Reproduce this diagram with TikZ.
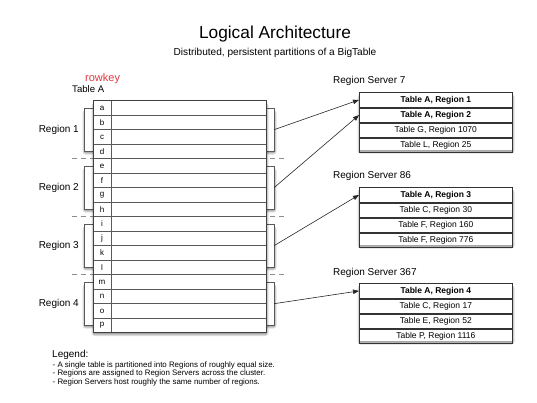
\documentclass[tikz,border=0pt]{standalone}
\usepackage{fontspec}
\setmainfont{Liberation Sans}
\usetikzlibrary{arrows.meta}
\definecolor{rowred}{RGB}{225,55,65}
\newcommand\softshadow[4]{%
  \foreach \d in {1,2,3}
    \fill[black,opacity=0.13,rounded corners=\d pt] ({#1-\d+1.5},{#2+2}) rectangle ({#3+\d-0.5},{#4+\d+0.3});}
\begin{document}
\begin{tikzpicture}[x=1pt,y=-1pt,
  font=\fontsize{10}{12}\selectfont,
  tline/.style={draw=black!65,line width=0.6pt},
  frame/.style={draw=black!75,line width=0.9pt},
  sep/.style={draw=black!45,dash pattern=on 5pt off 4pt,line width=0.7pt},
  keycell/.style={font=\fontsize{8}{9}\selectfont,inner sep=0pt},
  regionlabel/.style={anchor=east,inner sep=0pt},
  plainlabel/.style={anchor=west,inner sep=0pt},
  srvrow/.style={draw=black!80,line width=0.7pt,minimum width=153pt,minimum height=14.5pt,inner sep=0pt,anchor=north west,font=\fontsize{8.5}{10}\selectfont},
  hl/.style={font=\fontsize{8.5}{10}\selectfont\bfseries},
  link/.style={draw=black!85,line width=0.6pt,-{Triangle[length=6pt,width=4.5pt]}},
  legline/.style={anchor=west,inner sep=0pt,font=\fontsize{7.9}{10}\selectfont}
]
\useasboundingbox (0,0) rectangle (537,402);

% titles
\node[font=\fontsize{17.3}{20}\selectfont,inner sep=0pt] (title) at (275,34) {Logical Architecture};
\node[font=\fontsize{10.1}{12}\selectfont,inner sep=0pt] (sub) at (275,52.5) {Distributed, persistent partitions of a BigTable};

% region separators
\foreach \i in {1,2,3} \draw[sep] (72,{100.7+58*\i}) -- (286,{100.7+58*\i});

% brackets
\foreach \i in {1,...,4} {
  \pgfmathsetmacro\bt{100.7+58*(\i-1)+7.5}
  \pgfmathsetmacro\bb{100.7+58*\i-7.5}
  \softshadow{84}{\bt}{274}{\bb}
  \filldraw[tline,fill=white] (84,\bt) rectangle (274,\bb);
  \coordinate (r\i) at (274,{(\bt+\bb)/2});
  \node[regionlabel] (rl\i) at (79,{(\bt+\bb)/2}) {Region \i};
}

% table
\softshadow{93}{100.7}{266}{332.7}
\fill[white] (93,100.7) rectangle (266,332.7);
\foreach \i in {1,...,15} \draw[tline] (93,{100.7+14.5*\i}) -- (266,{100.7+14.5*\i});
\draw[tline] (111,100.7) -- (111,332.7);
\draw[frame] (93,100.7) rectangle (266,332.7);
\foreach \l [count=\i from 0] in {a,b,c,d,e,f,g,h,i,j,k,l,m,n,o,p}
  \node[keycell] (k\l) at (102,{100.7+14.5*\i+7.25}) {\l};

\node[plainlabel,font=\fontsize{9.6}{11}\selectfont] (tname) at (72,89) {Table A};
\node[plainlabel,text=rowred,font=\fontsize{11}{13}\selectfont] (rowkey) at (85,78.5) {rowkey};

% server 7
\node[plainlabel] (t7) at (333,81) {Region Server 7};
\softshadow{359}{92.3}{512}{150.3}
\fill[white] (359,92.3) rectangle (512,150.3);
\node[srvrow,hl] (s7a) at (359,92.3) {Table A, Region 1};
\node[srvrow,hl] (s7b) at (s7a.south west) {Table A, Region 2};
\node[srvrow] (s7c) at (s7b.south west) {Table G, Region 1070};
\node[srvrow] (s7d) at (s7c.south west) {Table L, Region 25};

% server 86
\node[plainlabel] (t86) at (333,175.7) {Region Server 86};
\softshadow{359}{187.3}{512}{245.3}
\fill[white] (359,187.3) rectangle (512,245.3);
\node[srvrow,hl] (s86a) at (359,187.3) {Table A, Region 3};
\node[srvrow] (s86b) at (s86a.south west) {Table C, Region 30};
\node[srvrow] (s86c) at (s86b.south west) {Table F, Region 160};
\node[srvrow] (s86d) at (s86c.south west) {Table F, Region 776};

% server 367
\node[plainlabel] (t367) at (333,272.7) {Region Server 367};
\softshadow{359}{283.3}{512}{341.3}
\fill[white] (359,283.3) rectangle (512,341.3);
\node[srvrow,hl] (s367a) at (359,283.3) {Table A, Region 4};
\node[srvrow] (s367b) at (s367a.south west) {Table C, Region 17};
\node[srvrow] (s367c) at (s367b.south west) {Table E, Region 52};
\node[srvrow] (s367d) at (s367c.south west) {Table P, Region 1116};

% connectors
\draw[link] (r1) -- (s7a.west);
\draw[link] (r2) -- (s7b.west);
\draw[link] (r3) -- (s86a.west);
\draw[link] (r4) -- (s367a.west);

% legend
\node[plainlabel] (leg) at (52,355) {Legend:};
\node[legline] (l1) at (52.5,365) {- A single table is partitioned into Regions of roughly equal size.};
\node[legline] (l2) at (52.5,373.7) {- Regions are assigned to Region Servers across the cluster.};
\node[legline] (l3) at (52.5,382.3) {- Region Servers host roughly the same number of regions.};
\end{tikzpicture}
\end{document}
